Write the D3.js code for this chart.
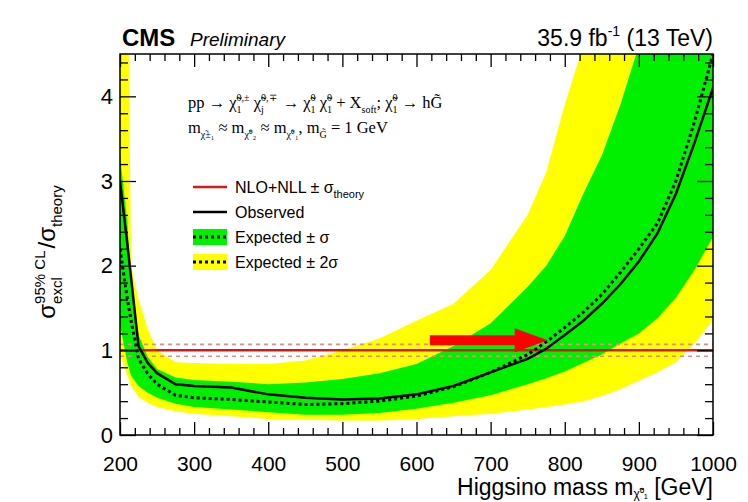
<!DOCTYPE html>
<html>
<head>
<meta charset="utf-8">
<script src="https://cdn.jsdelivr.net/npm/d3@7"></script>
<style>
body { margin: 0; background: #fff; }
svg { font-family: "Liberation Sans", Arial, sans-serif; }
text { white-space: pre; }
</style>
</head>
<body>
<div id="chart"></div>
<script>
// higgsino mass points (GeV)
const mass = [200, 210, 215, 225, 237.5, 250, 275, 300, 350, 400, 450, 500, 550, 600, 650, 700, 750, 775, 800, 825, 850, 875, 900, 925, 950, 975, 1000];

const observed = [3.0, 2.25, 1.85, 1.05, 0.85, 0.73, 0.6, 0.58, 0.56, 0.48, 0.44, 0.42, 0.43, 0.48, 0.58, 0.74, 0.9, 1.02, 1.18, 1.35, 1.55, 1.78, 2.05, 2.38, 2.85, 3.45, 4.1];
const expected = [2.2, 1.6, 1.35, 0.9, 0.72, 0.6, 0.47, 0.44, 0.42, 0.39, 0.36, 0.37, 0.4, 0.46, 0.57, 0.74, 0.95, 1.1, 1.27, 1.45, 1.66, 1.92, 2.2, 2.5, 3.0, 3.7, 4.5];

const oneSigmaUp = [3.3, 2.5, 1.75, 1.18, 0.92, 0.78, 0.68, 0.65, 0.63, 0.6, 0.62, 0.66, 0.73, 0.84, 1.05, 1.32, 1.75, 2.0, 2.35, 2.85, 3.3, 3.9, 4.6, 5.2, 5.8, 6.4, 7.0];
const oneSigmaDown = [1.3, 0.85, 0.7, 0.58, 0.5, 0.44, 0.37, 0.33, 0.3, 0.27, 0.24, 0.24, 0.26, 0.31, 0.38, 0.47, 0.6, 0.67, 0.75, 0.85, 0.95, 1.08, 1.2, 1.38, 1.62, 1.95, 2.34];
const twoSigmaUp = [7.0, 6.0, 2.0, 1.6, 1.25, 1.0, 0.86, 0.85, 0.84, 0.84, 0.88, 1.0, 1.14, 1.35, 1.55, 1.95, 2.6, 3.1, 3.9, 4.6, 5.5, 6.2, 7.0, 7.5, 8.0, 8.5, 9.0];
const twoSigmaDown = [0.95, 0.7, 0.58, 0.45, 0.38, 0.33, 0.28, 0.25, 0.22, 0.19, 0.18, 0.17, 0.17, 0.19, 0.22, 0.25, 0.3, 0.33, 0.36, 0.4, 0.46, 0.54, 0.64, 0.74, 0.86, 1.08, 1.36];

const theoryRatio = 1;
const theoryUnc = 0.07;

const xTicks = [200, 300, 400, 500, 600, 700, 800, 900, 1000];
const yTicks = [0, 1, 2, 3, 4];

// red annotation arrow (mass from -> to, at ratio level)
const arrowMass = [618, 777];
const arrowLevel = 1.12;

const width = 748, height = 502;
const margin = {top: 54, right: 35, bottom: 67, left: 120};

const svg = d3.select('#chart').append('svg')
	.attr('width', width)
	.attr('height', height);

const xScale = d3.scaleLinear()
	.domain([200, 1000])
	.range([margin.left, width - margin.right]);

const yScale = d3.scaleLinear()
	.domain([0, 4.5])
	.range([height - margin.bottom, margin.top]);

const rows = mass.map((m, i) => ({
	m: m,
	obs: observed[i],
	exp: expected[i],
	s1u: oneSigmaUp[i], s1d: oneSigmaDown[i],
	s2u: twoSigmaUp[i], s2d: twoSigmaDown[i]
}));

svg.append('clipPath').attr('id', 'plotclip')
	.append('rect')
	.attr('x', margin.left).attr('y', margin.top)
	.attr('width', width - margin.left - margin.right)
	.attr('height', height - margin.top - margin.bottom);

const plot = svg.append('g').attr('clip-path', 'url(#plotclip)');

let band = (lo, hi) => d3.area()
	.x(d => xScale(d.m))
	.y0(d => yScale(d[lo]))
	.y1(d => yScale(d[hi]));

let line = key => d3.line()
	.x(d => xScale(d.m))
	.y(d => yScale(d[key]));

plot.append('path').datum(rows)
	.attr('d', band('s2d', 's2u'))
	.style('fill', '#ffff00');

plot.append('path').datum(rows)
	.attr('d', band('s1d', 's1u'))
	.style('fill', '#00f000');

// theory line and its uncertainty
[theoryRatio + theoryUnc, theoryRatio - theoryUnc].forEach(v => {
	plot.append('line')
	.attr('x1', xScale(200)).attr('x2', xScale(1000))
	.attr('y1', yScale(v)).attr('y2', yScale(v))
	.style('stroke', '#e88a8a')
	.style('stroke-width', 1.6)
	.style('stroke-dasharray', '4,4');
})

plot.append('line')
	.attr('x1', xScale(200)).attr('x2', xScale(1000))
	.attr('y1', yScale(theoryRatio)).attr('y2', yScale(theoryRatio))
	.style('stroke', '#d81818')
	.style('stroke-width', 2.5);

plot.append('path').datum(rows)
	.attr('d', line('exp'))
	.style('fill', 'none')
	.style('stroke', '#000')
	.style('stroke-width', 3)
	.style('stroke-dasharray', '3,3');

plot.append('path').datum(rows)
	.attr('d', line('obs'))
	.style('fill', 'none')
	.style('stroke', '#000')
	.style('stroke-width', 2.5);

// axes, ROOT style ticks pointing inward
const minorX = d3.range(200, 1001, 20).filter(v => v % 100 !== 0);
const minorY = d3.range(0, 4.51, 0.2).filter(v => Math.abs(v - Math.round(v)) > 0.01);

let axisStyle = g => {
	g.select('.domain').remove();
	g.selectAll('line').style('stroke', '#000').style('stroke-width', 1.3);
	return g;
}

svg.append('g')
	.attr('transform', `translate(0,${height - margin.bottom})`)
	.call(d3.axisBottom(xScale).tickValues(xTicks).tickSize(-13).tickPadding(21).tickFormat(d3.format('d')))
	.call(axisStyle)
	.selectAll('text').style('font-size', '21px').style('fill', '#000');

svg.append('g')
	.attr('transform', `translate(0,${height - margin.bottom})`)
	.call(d3.axisBottom(xScale).tickValues(minorX).tickSize(-7).tickFormat(''))
	.call(axisStyle);

svg.append('g')
	.attr('transform', `translate(0,${margin.top})`)
	.call(d3.axisTop(xScale).tickValues(xTicks).tickSize(-13).tickFormat(''))
	.call(axisStyle);

svg.append('g')
	.attr('transform', `translate(0,${margin.top})`)
	.call(d3.axisTop(xScale).tickValues(minorX).tickSize(-7).tickFormat(''))
	.call(axisStyle);

svg.append('g')
	.attr('transform', `translate(${margin.left},0)`)
	.call(d3.axisLeft(yScale).tickValues(yTicks).tickSize(-16).tickPadding(7).tickFormat(d3.format('d')))
	.call(axisStyle)
	.selectAll('text').style('font-size', '22px').style('fill', '#000');

svg.append('g')
	.attr('transform', `translate(${margin.left},0)`)
	.call(d3.axisLeft(yScale).tickValues(minorY).tickSize(-8).tickFormat(''))
	.call(axisStyle);

svg.append('g')
	.attr('transform', `translate(${width - margin.right},0)`)
	.call(d3.axisRight(yScale).tickValues(yTicks).tickSize(-16).tickFormat(''))
	.call(axisStyle);

svg.append('g')
	.attr('transform', `translate(${width - margin.right},0)`)
	.call(d3.axisRight(yScale).tickValues(minorY).tickSize(-8).tickFormat(''))
	.call(axisStyle);

svg.append('rect')
	.attr('x', margin.left).attr('y', margin.top)
	.attr('width', width - margin.left - margin.right)
	.attr('height', height - margin.top - margin.bottom)
	.style('fill', 'none')
	.style('stroke', '#000')
	.style('stroke-width', 1.5);

// arrow annotation
const ax0 = xScale(arrowMass[0]), ax1 = xScale(arrowMass[1]), ay = yScale(arrowLevel);
svg.append('path')
	.attr('d', `M${ax0},${ay - 5}L${ax1 - 33},${ay - 5}L${ax1 - 33},${ay - 12}L${ax1},${ay}L${ax1 - 33},${ay + 12}L${ax1 - 33},${ay + 5}L${ax0},${ay + 5}Z`)
	.style('fill', '#ff0000');

// text with super/subscripts
const rich = (parent, x, y, parts, size, family, anchor) => {
	const grp = parent.append('g')
		.style('font-family', family)
		.style('font-size', size + 'px');
	let cx = 0;
	parts.forEach(p => {
		if (p.t) {
			const t = grp.append('text').attr('x', cx).attr('y', 0)
				.text(p.t);
			cx += t.node().getComputedTextLength();
		}
		let w = 0;
		const small = p.small || size * 0.65;
		if (p.sup) {
			const s = grp.append('text').attr('x', cx).attr('y', -size * 0.42)
				.style('font-size', small + 'px').text(p.sup);
			w = Math.max(w, s.node().getComputedTextLength());
		}
		if (p.sub) {
			const s = grp.append('text').attr('x', cx).attr('y', p.subDy !== undefined ? p.subDy : size * 0.3)
				.style('font-size', small + 'px').text(p.sub);
			w = Math.max(w, s.node().getComputedTextLength());
		}
		cx += w + (p.gap || 0);
	});
	const dx = anchor === 'end' ? -cx : anchor === 'middle' ? -cx / 2 : 0;
	grp.attr('transform', `translate(${x + dx},${y})`);
	return grp;
}

// header
svg.append('text').attr('x', 122).attr('y', 46)
	.style('font-size', '24px').style('font-weight', 'bold').text('CMS');
svg.append('text').attr('x', 190).attr('y', 46)
	.style('font-size', '19px').style('font-style', 'italic').text('Preliminary');
rich(svg, width - margin.right, 46, [{t: '35.9 fb', sup: '-1', small: 14}, {t: ' (13 TeV)'}], 23, 'Liberation Sans', 'end');

// axis titles
rich(svg, width - margin.right, 495, [{t: 'Higgsino mass m', sub: 'χ̃⁰₁', small: 12, subDy: 3}, {t: ' [GeV]'}], 23, 'Liberation Sans', 'end');

const ylab = svg.append('g').attr('transform', 'translate(55,252) rotate(-90)');
rich(ylab, 0, 0, [{t: 'σ', sup: '95% CL', sub: 'excl', small: 15, gap: 2}, {t: '/σ', sub: 'theory', small: 15}], 24, 'Liberation Sans', 'middle');

// process description
rich(svg, 188, 108, [
	{t: 'pp → χ̃', sup: '0,±', sub: '1', small: 10},
	{t: ' χ̃', sup: '0,∓', sub: 'j', small: 10, gap: 2},
	{t: ' → χ̃', sup: '0', sub: '1', small: 10},
	{t: ' χ̃', sup: '0', sub: '1', small: 10},
	{t: ' + X', sub: 'soft', small: 10},
	{t: '; χ̃', sup: '0', sub: '1', small: 10},
	{t: ' → hG̃'}
], 16.5, 'Liberation Serif', 'start');

rich(svg, 188, 133, [
	{t: 'm', sub: 'χ̃±₁', small: 10},
	{t: ' ≈ m', sub: 'χ̃⁰₂', small: 10},
	{t: ' ≈ m', sub: 'χ̃⁰₁', small: 10},
	{t: ', m', sub: 'G̃', small: 10},
	{t: ' = 1 GeV'}
], 16.5, 'Liberation Serif', 'start');

// legend
const legendY = [187, 212, 237, 262];
const lg = svg.append('g');
lg.append('line').attr('x1', 193).attr('x2', 227).attr('y1', legendY[0]).attr('y2', legendY[0])
	.style('stroke', '#d81818').style('stroke-width', 2.5);
lg.append('line').attr('x1', 193).attr('x2', 227).attr('y1', legendY[1]).attr('y2', legendY[1])
	.style('stroke', '#000').style('stroke-width', 2.5);
[['#00f000', legendY[2]], ['#ffff00', legendY[3]]].forEach(([c, yy]) => {
	lg.append('rect').attr('x', 193).attr('y', yy - 8).attr('width', 34).attr('height', 16).style('fill', c);
	lg.append('line').attr('x1', 193).attr('x2', 227).attr('y1', yy).attr('y2', yy)
		.style('stroke', '#000').style('stroke-width', 3).style('stroke-dasharray', '3,3');
})
rich(lg, 235, legendY[0] + 6, [{t: 'NLO+NLL ± σ', sub: 'theory', small: 11}], 16, 'Liberation Sans', 'start');
rich(lg, 235, legendY[1] + 6, [{t: 'Observed'}], 16, 'Liberation Sans', 'start');
rich(lg, 235, legendY[2] + 6, [{t: 'Expected ± σ'}], 16, 'Liberation Sans', 'start');
rich(lg, 235, legendY[3] + 6, [{t: 'Expected ± 2σ'}], 16, 'Liberation Sans', 'start');
</script>
</body>
</html>
